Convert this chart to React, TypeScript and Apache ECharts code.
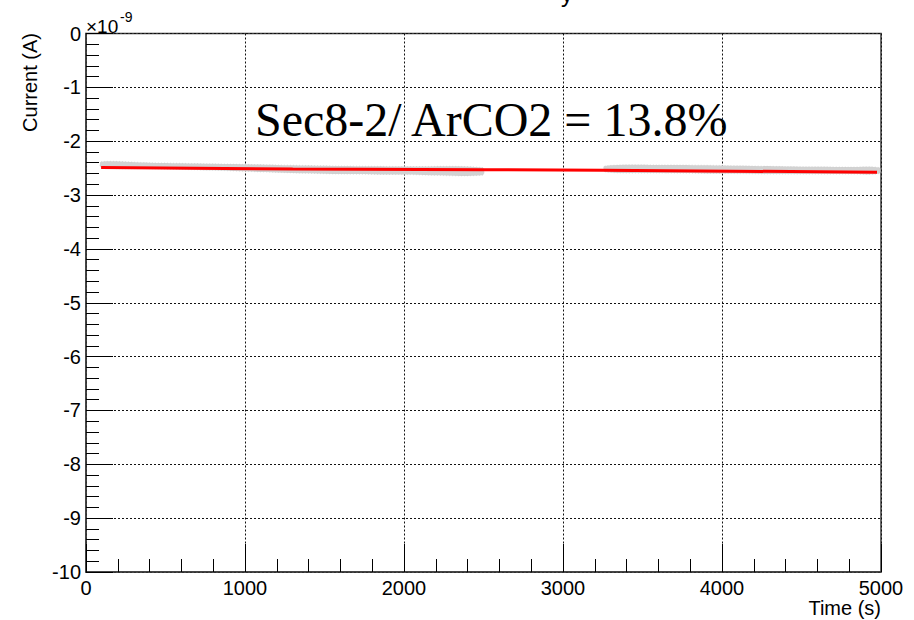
import React, { useEffect, useRef } from "react";
import * as echarts from "echarts";

// Axis ranges / ticks (current in units of 1e-9 A)
const xTicks = [0, 1000, 2000, 3000, 4000, 5000];
const yTicks = [0, -1, -2, -3, -4, -5, -6, -7, -8, -9, -10];

// Red fitted current line
const fitTime = [95, 1300, 2500, 3250, 4975];
const fitCurrent = [-2.49, -2.515, -2.53, -2.54, -2.575];

// Gray measured-data band, first segment
const seg1Time = [95, 400, 800, 1200, 1600, 2000, 2495];
const seg1Upper = [-2.38, -2.4, -2.42, -2.44, -2.46, -2.47, -2.49];
const seg1Lower = [-2.49, -2.51, -2.54, -2.58, -2.61, -2.62, -2.63];

// Gray measured-data band, second segment
const seg2Time = [3262, 3600, 4000, 4400, 4800, 4990];
const seg2Upper = [-2.46, -2.44, -2.45, -2.47, -2.48, -2.49];
const seg2Lower = [-2.57, -2.59, -2.6, -2.61, -2.61, -2.6];

const annotation = "Sec8-2/ ArCO2 = 13.8%";

const SANS = "'Liberation Sans', Arial, sans-serif";
const SERIF = "'Liberation Serif', 'Times New Roman', serif";

const segments = [
  { t: seg1Time, up: seg1Upper, lo: seg1Lower },
  { t: seg2Time, up: seg2Upper, lo: seg2Lower },
];

export default function App() {
  const ref = useRef<HTMLDivElement>(null);

  useEffect(() => {
    if (!ref.current) return;
    const chart = echarts.init(ref.current, null, { renderer: "svg" });
    const axisColor = "#3a3a3a";
    const splitStyle = { color: "#111", width: 1, type: [2, 2] as any };

    chart.setOption({
      animation: false,
      backgroundColor: "#ffffff",
      grid: {
        left: 86,
        right: 33,
        top: 33.5,
        bottom: 48,
        show: true,
        borderColor: axisColor,
        borderWidth: 1.5,
        backgroundColor: "transparent",
        outerBoundsMode: "none",
      },
      xAxis: {
        type: "value",
        min: xTicks[0],
        max: xTicks[xTicks.length - 1],
        interval: 1000,
        axisLine: { show: true, onZero: false, lineStyle: { color: axisColor, width: 1.5 } },
        axisTick: { show: true, inside: true, length: 28, lineStyle: { color: "#000", width: 1 } },
        minorTick: { show: true, splitNumber: 5, length: 13, lineStyle: { color: "#000", width: 1 } },
        axisLabel: {
          fontSize: 20,
          color: "#000",
          fontFamily: SANS,
          margin: 6,
          formatter: (v: number) => String(v),
        },
        splitLine: { show: true, lineStyle: splitStyle },
      },
      yAxis: {
        type: "value",
        min: yTicks[yTicks.length - 1],
        max: yTicks[0],
        interval: 1,
        axisLine: { show: true, onZero: false, lineStyle: { color: axisColor, width: 1.5 } },
        axisTick: { show: true, inside: true, length: 27, lineStyle: { color: "#000", width: 1 } },
        minorTick: { show: true, splitNumber: 5, length: 13, lineStyle: { color: "#000", width: 1 } },
        axisLabel: { fontSize: 20, color: "#000", fontFamily: SANS, margin: 5, formatter: (v: number) => String(v) },
        splitLine: { show: true, lineStyle: splitStyle },
      },
      series: [
        {
          name: "data",
          type: "custom",
          silent: true,
          z: 2,
          data: segments.map((s, i) => [s.t[0], s.up[0], i]),
          encode: { x: 0, y: 1 },
          renderItem: (params: any, api: any) => {
            const seg = segments[api.value(2)];
            const pts: number[][] = [];
            seg.t.forEach((x, i) => pts.push(api.coord([x, seg.up[i]])));
            for (let i = seg.t.length - 1; i >= 0; i--) pts.push(api.coord([seg.t[i], seg.lo[i]]));
            return {
              type: "polygon",
              shape: { points: pts, smooth: 0.3 },
              style: { fill: "#d2d2d2", stroke: "#c4c4c4", lineWidth: 0.5, lineDash: [1, 2] },
            };
          },
        },
        {
          name: "fit",
          type: "line",
          data: fitTime.map((x, i) => [x, fitCurrent[i]]),
          symbol: "none",
          lineStyle: { color: "#ff0000", width: 3 },
          z: 5,
        },
      ],
      graphic: [
        {
          type: "text",
          x: 255,
          y: 119,
          z: 10,
          style: {
            text: annotation,
            fontSize: 48,
            fontFamily: SERIF,
            fill: "#000",
            textAlign: "left",
            textVerticalAlign: "middle",
          },
        },
        {
          type: "text",
          x: 86,
          y: 26,
          style: {
            text: "×10",
            fontSize: 19,
            fontFamily: SANS,
            fill: "#000",
            textAlign: "left",
            textVerticalAlign: "middle",
          },
        },
        {
          type: "text",
          x: 120,
          y: 17,
          style: {
            text: "-9",
            fontSize: 14,
            fontFamily: SANS,
            fill: "#000",
            textAlign: "left",
            textVerticalAlign: "middle",
          },
        },
        {
          type: "text",
          x: 30,
          y: 33,
          rotation: Math.PI / 2,
          style: {
            text: "Current (A)",
            fontSize: 20,
            fontFamily: SANS,
            fill: "#000",
            textAlign: "right",
            textVerticalAlign: "middle",
          },
        },
        {
          type: "text",
          x: 881,
          y: 608,
          style: {
            text: "Time (s)",
            fontSize: 20,
            fontFamily: SANS,
            fill: "#000",
            textAlign: "right",
            textVerticalAlign: "middle",
          },
        },
        {
          type: "text",
          x: 567,
          y: -7,
          style: {
            text: "y",
            fontSize: 24,
            fontFamily: SANS,
            fill: "#000",
            textAlign: "center",
            textVerticalAlign: "middle",
          },
        },
      ],
    });
    return () => chart.dispose();
  }, []);

  return (
    <div
      ref={ref}
      style={{ position: "absolute", left: 0, top: 0, width: 914, height: 620, background: "#fff" }}
    />
  );
}
